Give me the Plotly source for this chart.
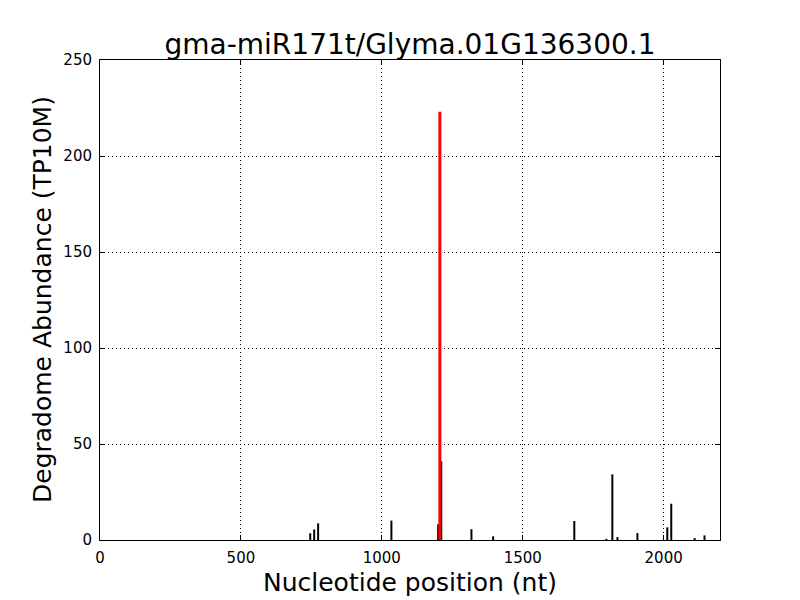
import plotly.graph_objects as go

positions = [746, 760, 774, 1034, 1200, 1211, 1318, 1395, 1683, 1797, 1818, 1836, 1907, 2013, 2027, 2110, 2145]
abundance = [3.5, 5.5, 8.7, 10.1, 8.2, 41, 5.6, 1.9, 9.9, 0.6, 34.2, 1.5, 3.6, 6.6, 18.9, 1.0, 2.4]
cleave_pos = [1206]
cleave_val = [223]

title = "gma-miR171t/Glyma.01G136300.1"
xlabel = "Nucleotide position (nt)"
ylabel = "Degradome Abundance (TP10M)"
xticks = [0, 500, 1000, 1500, 2000]
yticks = [0, 50, 100, 150, 200, 250]

def seg(xs, ys):
    X, Y = [], []
    for x, y in zip(xs, ys):
        X += [x, x, None]
        Y += [0, y, None]
    return X, Y

bx, by = seg(positions, abundance)
rx, ry = seg(cleave_pos, cleave_val)

fig = go.Figure()
fig.add_trace(go.Scatter(x=bx, y=by, mode="lines", line=dict(color="black", width=2), hoverinfo="skip"))
fig.add_trace(go.Scatter(x=rx, y=ry, mode="lines", line=dict(color="red", width=3), hoverinfo="skip"))

font = "DejaVu Sans"
axis_common = dict(
    showline=True, linecolor="black", linewidth=1, mirror="allticks",
    ticks="inside", ticklen=5, tickcolor="black",
    showgrid=True, gridcolor="black", gridwidth=1, griddash="1px,3px",
    zeroline=False, tickfont=dict(family=font, size=15, color="black"),
    automargin=False, ticklabelstandoff=4,
)
# page body has an 8px margin; compensate so the plot area sits at 100..720 x 60..540
fig.update_layout(
    width=800, height=600,
    margin=dict(l=92, r=88, t=52, b=68),
    paper_bgcolor="white", plot_bgcolor="white",
    showlegend=False,
    title=dict(text=title, x=402/800, xanchor="center", y=1-36/600, yanchor="middle",
               font=dict(family=font, size=28, color="black")),
    xaxis=dict(range=[0, 2200], tickvals=xticks, ticktext=[str(v) for v in xticks], **axis_common),
    yaxis=dict(range=[0, 250], tickvals=yticks, ticktext=[str(v) for v in yticks], **axis_common),
    annotations=[
        dict(text=xlabel, xref="paper", yref="paper", x=0.5, y=-42/480, xanchor="center", yanchor="middle",
             showarrow=False, font=dict(family=font, size=25, color="black")),
        dict(text=ylabel, xref="paper", yref="paper", x=-58/620, y=0.5, xanchor="center", yanchor="middle",
             textangle=-90, showarrow=False, font=dict(family=font, size=25, color="black")),
    ],
)
fig.write_html("out.html")
